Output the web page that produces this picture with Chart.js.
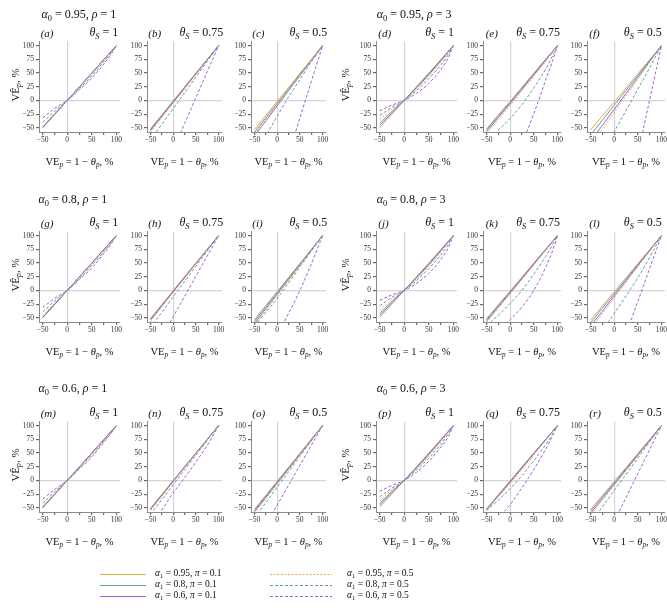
<!DOCTYPE html>
<html lang="en">
<head>
<meta charset="UTF-8">
<title>Estimated VE panels</title>
<script src="https://cdn.jsdelivr.net/npm/chart.js"></script>
<style>
  html, body { margin: 0; padding: 0; background: #fff; overflow: hidden; }
  body { width: 667px; height: 610px; position: relative; font-family: 'Liberation Serif', 'Times New Roman', serif; color: #111; }
  canvas { position: absolute; }
  .txt { position: absolute; white-space: nowrap; line-height: 1; }
  .group { font-size: 12px; transform: translateY(-50%); }
  .plab { font-size: 11px; font-style: italic; transform: translateY(-50%); }
  .theta { font-size: 12px; transform: translate(-100%, -50%); }
  .xtitle { font-size: 10.5px; transform: translate(-50%, -50%); }
  .ytitle { font-size: 11px; transform: translate(-50%, -50%) rotate(-90deg); }
  .leg { font-size: 9.5px; transform: translateY(-50%); }
  sub { font-size: 70%; vertical-align: -0.3em; line-height: 0; }
  svg { position: absolute; left: 0; top: 0; }
</style>
</head>
<body>
<svg id="legendLines" width="667" height="610"></svg>
<script>
// x positions of the curves (VE_P, %)
const veP = [-50, -25, 0, 25, 50, 75, 90, 100];
const xTicks = [-50, -25, 0, 25, 50, 75, 100];
const xTickLabels = [-50, 0, 50, 100];
const yTicks = [-50, -25, 0, 25, 50, 75, 100];

const panelLetters = ['a','b','c','d','e','f','g','h','i','j','k','l','m','n','o','p','q','r'];
const thetaS = ['1', '0.75', '0.5'];
const alpha0 = ['0.95', '0.8', '0.6'];
const rho = ['1', '3'];

const seriesLabels = [
  'α1 = 0.95, π = 0.1', 'α1 = 0.8, π = 0.1', 'α1 = 0.6, π = 0.1',
  'α1 = 0.95, π = 0.5', 'α1 = 0.8, π = 0.5', 'α1 = 0.6, π = 0.5'
];

// estimated VE hat (%) at veP, one row per panel a..r
const solid95 = [
  [-50,-25,0,25,50,75,90,100],
  [-52,-26.5,-1,24.5,50,75,90,100],
  [-53,-27.5,-2,23.5,49,74.5,89.8,100],
  [-50,-25,0,25,50,75,90,100],
  [-52,-26,-1.5,24,49.5,75,90,100],
  [-54,-28,-3,23,48.5,74.5,89.8,100],
  [-50,-25,0,25,50,75,90,100],
  [-51.5,-26,-0.5,25,50,75,90,100],
  [-53,-27.5,-2,23.5,49,74.5,89.8,100],
  [-49,-24.5,0,25,50,75,90,100],
  [-52,-26,-1,24.5,50,75,90,100],
  [-54,-28,-2.5,23,48.7,74.3,89.7,100],
  [-50,-25,0,25,50,75,90,100],
  [-51,-25.5,-0.5,25,50,75,90,100],
  [-52.5,-27,-1.5,24,49.3,74.7,89.8,100],
  [-49,-24.5,0,25,50,75,90,100],
  [-51.5,-26,-0.5,24.7,50,75,90,100],
  [-53,-27.5,-2,23.5,49,74.5,89.8,100]
];
const solid80 = [
  [-49.5,-24.8,0,25,50,75,90,100],
  [-53.5,-27.5,-2,23.5,49,74.5,89.7,100],
  [-58,-31.6,-5.3,21,47.4,73.7,89.5,100],
  [-46,-22.5,0,24,48.5,74,89.5,100],
  [-54,-28,-3,22.5,48.5,74.5,89.7,100],
  [-63,-36,-8.7,18.5,45.6,72.8,89,100],
  [-49.5,-24.8,0,25,50,75,90,100],
  [-52.5,-27,-1.5,24,49.3,74.7,89.8,100],
  [-56,-30,-4,22,48,74,89.6,100],
  [-46,-22.5,0,24,48.5,74,89.5,100],
  [-53.5,-27.5,-2.5,23,49,74.5,89.8,100],
  [-59,-32,-6,20.5,47,73.5,89.4,100],
  [-49.5,-24.8,0,25,50,75,90,100],
  [-52,-26.5,-1,24.5,49.7,74.8,90,100],
  [-54.5,-28.7,-3,22.7,48.5,74.2,89.7,100],
  [-45,-22,0,24,48.5,74,89.5,100],
  [-52.5,-27,-1.5,24,49.5,74.7,89.8,100],
  [-56,-30,-4.5,21.5,47.5,73.8,89.5,100]
];
const solid60 = [
  [-49,-24.5,0,24.8,49.7,74.8,90,100],
  [-55,-29,-3.5,22.5,48.5,74,89.5,100],
  [-64.8,-37.4,-9.9,17.6,45,72.5,89,100],
  [-42,-20,0,23,47,73,89,100],
  [-57,-31,-5.5,20.5,47,73.5,89.5,100],
  [-74.5,-45.4,-16.3,12.8,41.9,70.9,88.4,100],
  [-49,-24.5,0,24.8,49.7,74.8,90,100],
  [-54,-28,-2.5,23.3,49,74.5,89.7,100],
  [-60,-33.5,-7,19.5,46.5,73,89.3,100],
  [-42,-20,0,23,47,73,89,100],
  [-56,-30,-4.5,21.5,48,74,89.5,100],
  [-65,-38,-10,17.5,45,72.5,89,100],
  [-49,-24.5,0,24.8,49.7,74.8,90,100],
  [-53,-27.3,-1.7,24,49.3,74.6,89.8,100],
  [-57,-31,-5,21,47.5,73.8,89.5,100],
  [-42,-20,0,23,47.5,73.5,89.2,100],
  [-54,-28.5,-3,22.8,48.7,74.3,89.6,100],
  [-60,-33.5,-7,19.5,46.3,73,89.3,100]
];
const dash95 = [
  [-47,-23,0,24,48.5,73.5,89,100],
  [-58,-31,-5,21,47,73,89,100],
  [-61,-34.4,-7.5,19.4,46,73,89.2,100],
  [-35,-16,0,21,44,70,87,100],
  [-62,-35,-9,17,44,71,88.5,100],
  [-83,-53,-22,8.5,39,70,88,100],
  [-46,-22.5,0,24,48.5,73.5,89,100],
  [-57,-30,-4,22,48,74,89.5,100],
  [-63,-36,-9,18,45.5,73,89,100],
  [-36,-16.5,0,21,44,70,87,100],
  [-58,-32,-6,20,46.5,73,89,100],
  [-70,-42,-13.5,15,43.5,71.5,88.6,100],
  [-47,-23,0,24.3,49,74,89.3,100],
  [-55,-29,-3,22.7,48.5,74.2,89.6,100],
  [-60,-33.5,-7,19.5,46.5,73,89.3,100],
  [-37,-17,0,21.5,45,70.5,87.5,100],
  [-52,-29,-5,20,46.5,73,89,100],
  [-62,-35.5,-9,17.7,44.7,72,88.8,100]
];
const dash80 = [
  [-40,-19,0,22,45,71,87.5,100],
  [-72,-43.7,-15,13.8,42.5,71.3,88.5,100],
  [-100,-65,-29,6,38,70,87,100],
  [-27.5,-12.5,0,18,40,65,84,100],
  [-73,-54,-32.5,-7.5,23,57,82,100],
  [-130,-94,-57,-18.5,20.5,59.5,84,100],
  [-39,-18.5,0,22,45.5,71,87.5,100],
  [-68,-40,-12,16,44,72,88.8,100],
  [-65,-40,-15,13.75,42.5,71.25,88.5,100],
  [-28,-12.5,0,18,40,65,84,100],
  [-64,-45,-23.5,0.5,30,62,84,100],
  [-104,-73,-42,-10,23,60,84,100],
  [-42,-20,0,22.5,46.5,72,88,100],
  [-62,-35,-8,19,46,73,89.2,100],
  [-68.6,-40.5,-12.4,15.7,43.8,71.9,88.8,100],
  [-30,-14,0,19,41,66,85,100],
  [-55,-36,-15,9,36,65,85,100],
  [-77.5,-48,-18.3,11.2,40.8,70.4,88.2,100]
];
const dash60 = [
  [-32,-14,0,20,41,67,85,100],
  [-185,-137.5,-90,-42.5,5,52.5,81,100],
  [-300,-233,-165,-99,-32,34,73.5,100],
  [-19,-8.5,0,13,31,57,78,100],
  [-215,-170,-125,-78,-24,37,73,100],
  [-496,-397,-297,-198,-99,1,60,100],
  [-31,-14,0,20,41,68,85.5,100],
  [-122,-85,-48,-11,26,63,85,100],
  [-150,-115,-79.5,-42,0,48,79,100],
  [-18,-8,0,13,31,57,78,100],
  [-90,-73,-53,-30,0,42,73,100],
  [-260,-200,-140,-80,-20,40,76,100],
  [-34,-16,0,21,43,70,86.5,100],
  [-85,-54,-23,5,33.5,64,85,100],
  [-117.5,-81.3,-45,-8.8,27.5,63.8,85.5,100],
  [-20,-9,0,15,35,61,80,100],
  [-88,-68,-44,-13,20,57,82,100],
  [-162.5,-118.75,-75,-31.25,12.5,56.25,82.5,100]
];

// layout (pixels)
const colLeft = [39, 147, 251, 376, 483, 587];
const colWidth = [81, 75, 75, 81, 78, 78];
const rowTop = [38, 228, 418];
const plotH = 94;
const YW = 24, XH = 15, PT = 3, PR = 8;
const labLeft = [40.7, 148.3, 252.3, 378.3, 485.7, 589.3];
const thetaRight = [118.3, 223.3, 327.3, 454, 560, 661.7];
const groupLeft = [[41.5, 376.7], [38.5, 376.7], [38.5, 376.7]];
const groupY = [13.5, 199, 387.5];
const yTitleX = [15, 345];

const colors = { c95: '#E1AE45', c80: '#5E9FA3', c60: '#A35DE3' };
const tickFont = { family: "'Liberation Serif', serif", size: 7.5 };

function fmt(v) { return v < 0 ? '\u2212' + Math.abs(v) : String(v); }

function addText(html, cls, left, top) {
  const d = document.createElement('div');
  d.className = 'txt ' + cls;
  d.innerHTML = html;
  d.style.left = left + 'px';
  d.style.top = top + 'px';
  document.body.appendChild(d);
  return d;
}

function makeDataset(rows, i, color, dash) {
  return {
    data: veP.map((x, k) => ({ x: x, y: rows[i][k] })),
    borderColor: color,
    borderWidth: 1,
    borderDash: dash,
    pointRadius: 0,
    fill: false,
    cubicInterpolationMode: 'monotone'
  };
}

function gridColor(ctx) {
  return ctx.tick && ctx.tick.value === 0 ? '#d4d4d4' : 'rgba(0,0,0,0)';
}

function drawPanel(i) {
  const row = Math.floor(i / 6), col = i % 6;
  const cv = document.createElement('canvas');
  const w = colWidth[col] + YW + PR, h = plotH + PT + XH;
  cv.width = w; cv.height = h;
  cv.style.width = w + 'px'; cv.style.height = h + 'px';
  cv.style.left = (colLeft[col] - YW) + 'px';
  cv.style.top = (rowTop[row] - PT) + 'px';
  document.body.appendChild(cv);

  // first dataset is drawn on top
  const datasets = [
    makeDataset(dash60, i, colors.c60, [3, 2]),
    makeDataset(dash80, i, colors.c80, [3, 2]),
    makeDataset(dash95, i, colors.c95, [2, 1.6]),
    makeDataset(solid60, i, colors.c60, []),
    makeDataset(solid80, i, colors.c80, []),
    makeDataset(solid95, i, colors.c95, [])
  ];

  new Chart(cv, {
    type: 'line',
    data: { datasets: datasets },
    options: {
      responsive: false,
      animation: false,
      events: [],
      layout: { padding: { left: 0, right: PR, top: PT, bottom: 0 }, autoPadding: false },
      plugins: { legend: { display: false }, tooltip: { enabled: false } },
      scales: {
        x: {
          type: 'linear', min: -57.5, max: 107.5,
          afterBuildTicks: s => { s.ticks = xTicks.map(v => ({ value: v })); },
          afterFit: s => { s.height = XH; },
          ticks: {
            callback: v => xTickLabels.includes(v) ? fmt(v) : '',
            font: tickFont, color: '#333', padding: 1, maxRotation: 0, autoSkip: false
          },
          grid: { color: gridColor, lineWidth: 1.2, tickColor: '#666', tickLength: 3 },
          border: { display: true, color: '#8a8a8a', width: 1 }
        },
        y: {
          type: 'linear', min: -57.5, max: 107.5,
          afterBuildTicks: s => { s.ticks = yTicks.map(v => ({ value: v })); },
          afterFit: s => { s.width = YW; },
          ticks: { callback: v => fmt(v), font: tickFont, color: '#333', padding: 2, autoSkip: false },
          grid: { color: gridColor, lineWidth: 1.2, tickColor: '#666', tickLength: 3 },
          border: { display: true, color: '#8a8a8a', width: 1 }
        }
      }
    }
  });

  addText('(' + panelLetters[i] + ')', 'plab', labLeft[col], rowTop[row] - 5.5);
  addText('<i>θ</i><sub><i>S</i></sub> = ' + thetaS[col % 3], 'theta', thetaRight[col], rowTop[row] - 6);
  addText('VE<sub><i>p</i></sub> = 1 − <i>θ</i><sub><i>p</i></sub>, %', 'xtitle',
    colLeft[col] + colWidth[col] / 2, rowTop[row] + plotH + 30);
  if (col % 3 === 0) {
    addText('VÊ<sub><i>p</i></sub>, %', 'ytitle', yTitleX[col / 3], rowTop[row] + plotH / 2);
  }
}

for (let i = 0; i < 18; i++) drawPanel(i);

for (let r = 0; r < 3; r++) {
  for (let g = 0; g < 2; g++) {
    addText('<i>α</i><sub>0</sub> = ' + alpha0[r] + ', <i>ρ</i> = ' + rho[g], 'group', groupLeft[r][g], groupY[r]);
  }
}

// legend
const legRowY = [574, 585, 596];
const legColors = [colors.c95, colors.c80, colors.c60];
const legDash = ['2 1.6', '3 2', '3 2'];
const svg = document.getElementById('legendLines');
let svgHtml = '';
for (let k = 0; k < 3; k++) {
  const y = legRowY[k] + 0.5;
  svgHtml += `<line x1="100" y1="${y}" x2="146" y2="${y}" stroke="${legColors[k]}" stroke-width="1"/>`;
  svgHtml += `<line x1="270" y1="${y}" x2="332" y2="${y}" stroke="${legColors[k]}" stroke-width="1" stroke-dasharray="${legDash[k]}"/>`;
}
svg.innerHTML = svgHtml;
function legHtml(label) {
  return label.replace('α1', '<i>α</i><sub>1</sub>').replace('π', '<i>π</i>');
}
for (let k = 0; k < 3; k++) {
  addText(legHtml(seriesLabels[k]), 'leg', 155, legRowY[k]);
  addText(legHtml(seriesLabels[k + 3]), 'leg', 347, legRowY[k]);
}
</script>
</body>
</html>
